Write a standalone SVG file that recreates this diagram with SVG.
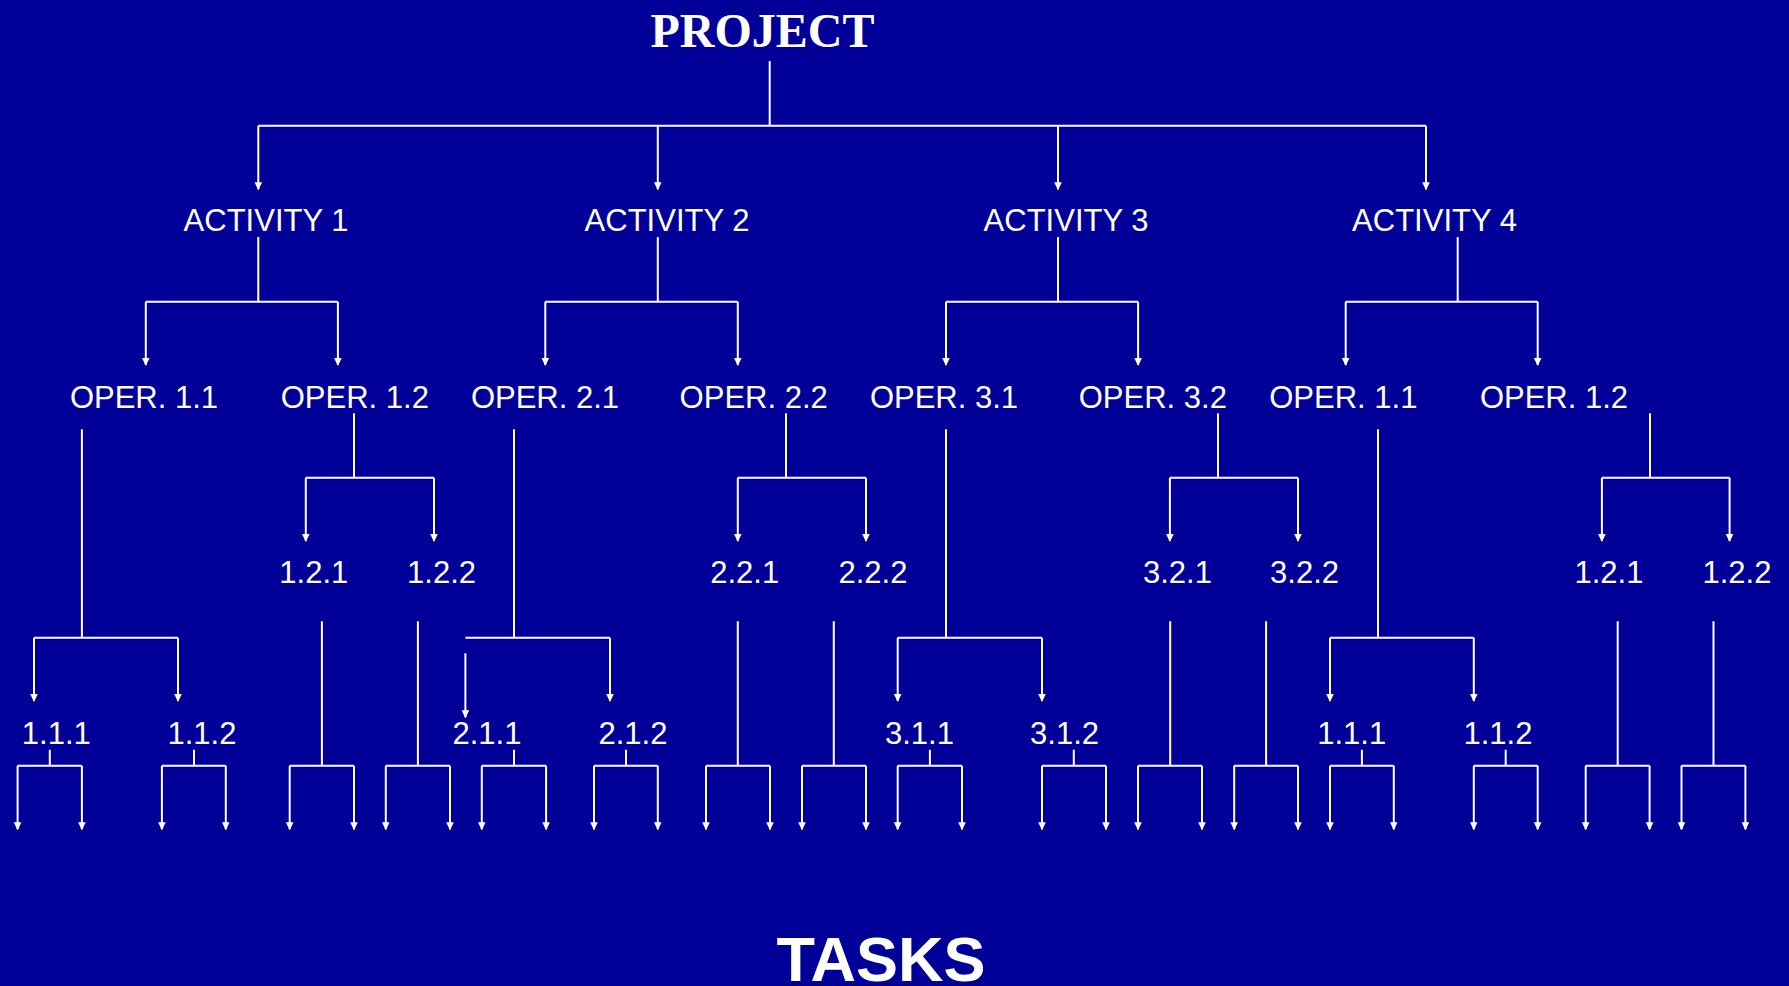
<svg xmlns="http://www.w3.org/2000/svg" width="1789" height="986" viewBox="0 0 1789 986">
<style>
.t{font-family:"Liberation Sans",Arial,sans-serif;font-size:31px;fill:#fff;text-anchor:middle}
.title{font-family:"Liberation Serif","Times New Roman",serif;font-size:48px;font-weight:bold;fill:#fff;text-anchor:middle}
.tasks{font-family:"Liberation Sans",Arial,sans-serif;font-size:63px;font-weight:bold;fill:#fff;text-anchor:middle}
.c{stroke:#fff;stroke-width:2;fill:none}
.a{stroke:#fff;stroke-width:2;fill:none;marker-end:url(#arr)}
</style>
<defs>
<marker id="arr" viewBox="0 0 8 8" refX="7" refY="4" markerWidth="8" markerHeight="8" markerUnits="userSpaceOnUse" orient="auto">
<path d="M0,0.2 L8,4 L0,7.8 z" fill="#fff"/>
</marker>
</defs>
<rect x="0" y="0" width="1789" height="986" fill="#000099"/>
<g id="connectors">
<!-- project to activities -->
<path class="c" d="M769.7,61 V125.7 M258.3,125.7 H1426"/>
<path class="a" d="M258.3,125.7 V189.3"/>
<path class="a" d="M657.8,125.7 V189.3"/>
<path class="a" d="M1058,125.7 V189.3"/>
<path class="a" d="M1426,125.7 V189.3"/>
<!-- activities to operations -->
<path class="c" d="M258.3,237 V301.7 M145.8,301.7 H337.9"/>
<path class="a" d="M145.8,301.7 V365"/><path class="a" d="M337.9,301.7 V365"/>
<path class="c" d="M657.8,237 V301.7 M545.3,301.7 H737.8"/>
<path class="a" d="M545.3,301.7 V365"/><path class="a" d="M737.8,301.7 V365"/>
<path class="c" d="M1058,237 V301.7 M946,301.7 H1138.1"/>
<path class="a" d="M946,301.7 V365"/><path class="a" d="M1138.1,301.7 V365"/>
<path class="c" d="M1457.7,237 V301.7 M1345.7,301.7 H1537.7"/>
<path class="a" d="M1345.7,301.7 V365"/><path class="a" d="M1537.7,301.7 V365"/>
<!-- operations x.2 to level 3 -->
<path class="c" d="M354,413.3 V477.7 M305.8,477.7 H434"/>
<path class="a" d="M305.8,477.7 V541"/><path class="a" d="M434,477.7 V541"/>
<path class="c" d="M786,413.3 V477.7 M737.8,477.7 H866"/>
<path class="a" d="M737.8,477.7 V541"/><path class="a" d="M866,477.7 V541"/>
<path class="c" d="M1218,413.3 V477.7 M1169.9,477.7 H1298"/>
<path class="a" d="M1169.9,477.7 V541"/><path class="a" d="M1298,477.7 V541"/>
<path class="c" d="M1650,413.3 V477.7 M1601.9,477.7 H1729.6"/>
<path class="a" d="M1601.9,477.7 V541"/><path class="a" d="M1729.6,477.7 V541"/>
<!-- operations x.1 to level 4 -->
<path class="c" d="M81.9,429.3 V637.7 M34,637.7 H178"/>
<path class="a" d="M34,637.7 V701"/><path class="a" d="M178,637.7 V701"/>
<path class="c" d="M514,429.3 V637.7 M465.4,637.7 H610"/>
<path class="a" d="M465.4,653.3 V717.3"/><path class="a" d="M610,637.7 V701"/>
<path class="c" d="M946,429.3 V637.7 M897.7,637.7 H1042"/>
<path class="a" d="M897.7,637.7 V701"/><path class="a" d="M1042,637.7 V701"/>
<path class="c" d="M1378,429.3 V637.7 M1330,637.7 H1473.8"/>
<path class="a" d="M1330,637.7 V701"/><path class="a" d="M1473.8,637.7 V701"/>
<!-- level 3 to tasks -->
<path class="c" d="M321.9,621.3 V765.7 M289.7,765.7 H354"/>
<path class="a" d="M289.7,765.7 V829.3"/><path class="a" d="M354,765.7 V829.3"/>
<path class="c" d="M417.9,621.3 V765.7 M385.8,765.7 H450"/>
<path class="a" d="M385.8,765.7 V829.3"/><path class="a" d="M450,765.7 V829.3"/>
<path class="c" d="M737.8,621.3 V765.7 M706,765.7 H770"/>
<path class="a" d="M706,765.7 V829.3"/><path class="a" d="M770,765.7 V829.3"/>
<path class="c" d="M833.8,621.3 V765.7 M802,765.7 H866"/>
<path class="a" d="M802,765.7 V829.3"/><path class="a" d="M866,765.7 V829.3"/>
<path class="c" d="M1170.2,621.3 V765.7 M1138,765.7 H1202"/>
<path class="a" d="M1138,765.7 V829.3"/><path class="a" d="M1202,765.7 V829.3"/>
<path class="c" d="M1266.1,621.3 V765.7 M1234.2,765.7 H1298"/>
<path class="a" d="M1234.2,765.7 V829.3"/><path class="a" d="M1298,765.7 V829.3"/>
<path class="c" d="M1617.7,621.3 V765.7 M1585.7,765.7 H1649.6"/>
<path class="a" d="M1585.7,765.7 V829.3"/><path class="a" d="M1649.6,765.7 V829.3"/>
<path class="c" d="M1713.5,621.3 V765.7 M1681.5,765.7 H1745.4"/>
<path class="a" d="M1681.5,765.7 V829.3"/><path class="a" d="M1745.4,765.7 V829.3"/>
<!-- level 4 to tasks -->
<path class="c" d="M49.8,749.7 V765.7 M17.6,765.7 H81.9"/>
<path class="a" d="M17.6,765.7 V829.3"/><path class="a" d="M81.9,765.7 V829.3"/>
<path class="c" d="M194,749.7 V765.7 M161.9,765.7 H225.8"/>
<path class="a" d="M161.9,765.7 V829.3"/><path class="a" d="M225.8,765.7 V829.3"/>
<path class="c" d="M514,749.7 V765.7 M481.8,765.7 H546.1"/>
<path class="a" d="M481.8,765.7 V829.3"/><path class="a" d="M546.1,765.7 V829.3"/>
<path class="c" d="M626,749.7 V765.7 M594,765.7 H657.8"/>
<path class="a" d="M594,765.7 V829.3"/><path class="a" d="M657.8,765.7 V829.3"/>
<path class="c" d="M929.9,749.7 V765.7 M897.7,765.7 H962"/>
<path class="a" d="M897.7,765.7 V829.3"/><path class="a" d="M962,765.7 V829.3"/>
<path class="c" d="M1073.8,749.7 V765.7 M1042,765.7 H1106"/>
<path class="a" d="M1042,765.7 V829.3"/><path class="a" d="M1106,765.7 V829.3"/>
<path class="c" d="M1361.9,749.7 V765.7 M1330,765.7 H1393.8"/>
<path class="a" d="M1330,765.7 V829.3"/><path class="a" d="M1393.8,765.7 V829.3"/>
<path class="c" d="M1505.7,749.7 V765.7 M1473.8,765.7 H1537.7"/>
<path class="a" d="M1473.8,765.7 V829.3"/><path class="a" d="M1537.7,765.7 V829.3"/>
</g>
<g id="project"><text class="title" x="762.5" y="46.5">PROJECT</text></g>
<g id="activity1"><text class="t" x="266" y="231">ACTIVITY 1</text></g>
<g id="activity2"><text class="t" x="667" y="231">ACTIVITY 2</text></g>
<g id="activity3"><text class="t" x="1066" y="231">ACTIVITY 3</text></g>
<g id="activity4"><text class="t" x="1434.5" y="231">ACTIVITY 4</text></g>
<g id="oper11"><text class="t" x="144" y="407.7">OPER. 1.1</text></g>
<g id="oper12"><text class="t" x="354.8" y="407.7">OPER. 1.2</text></g>
<g id="oper21"><text class="t" x="545" y="407.7">OPER. 2.1</text></g>
<g id="oper22"><text class="t" x="753.7" y="407.7">OPER. 2.2</text></g>
<g id="oper31"><text class="t" x="944" y="407.7">OPER. 3.1</text></g>
<g id="oper32"><text class="t" x="1152.8" y="407.7">OPER. 3.2</text></g>
<g id="oper11b"><text class="t" x="1343.3" y="407.7">OPER. 1.1</text></g>
<g id="oper12b"><text class="t" x="1554" y="407.7">OPER. 1.2</text></g>
<g id="n121"><text class="t" x="313.8" y="582.7">1.2.1</text></g>
<g id="n122"><text class="t" x="441.6" y="582.7">1.2.2</text></g>
<g id="n221"><text class="t" x="744.7" y="582.7">2.2.1</text></g>
<g id="n222"><text class="t" x="873" y="582.7">2.2.2</text></g>
<g id="n321"><text class="t" x="1177.5" y="582.7">3.2.1</text></g>
<g id="n322"><text class="t" x="1304.6" y="582.7">3.2.2</text></g>
<g id="n121b"><text class="t" x="1609" y="582.7">1.2.1</text></g>
<g id="n122b"><text class="t" x="1737" y="582.7">1.2.2</text></g>
<g id="n111"><text class="t" x="56.3" y="744">1.1.1</text></g>
<g id="n112"><text class="t" x="201.9" y="744">1.1.2</text></g>
<g id="n211"><text class="t" x="487" y="744">2.1.1</text></g>
<g id="n212"><text class="t" x="633" y="744">2.1.2</text></g>
<g id="n311"><text class="t" x="919.4" y="744">3.1.1</text></g>
<g id="n312"><text class="t" x="1064.6" y="744">3.1.2</text></g>
<g id="n111b"><text class="t" x="1351.7" y="744">1.1.1</text></g>
<g id="n112b"><text class="t" x="1497.9" y="744">1.1.2</text></g>
<g id="tasks"><text class="tasks" x="881" y="981">TASKS</text></g>
</svg>
